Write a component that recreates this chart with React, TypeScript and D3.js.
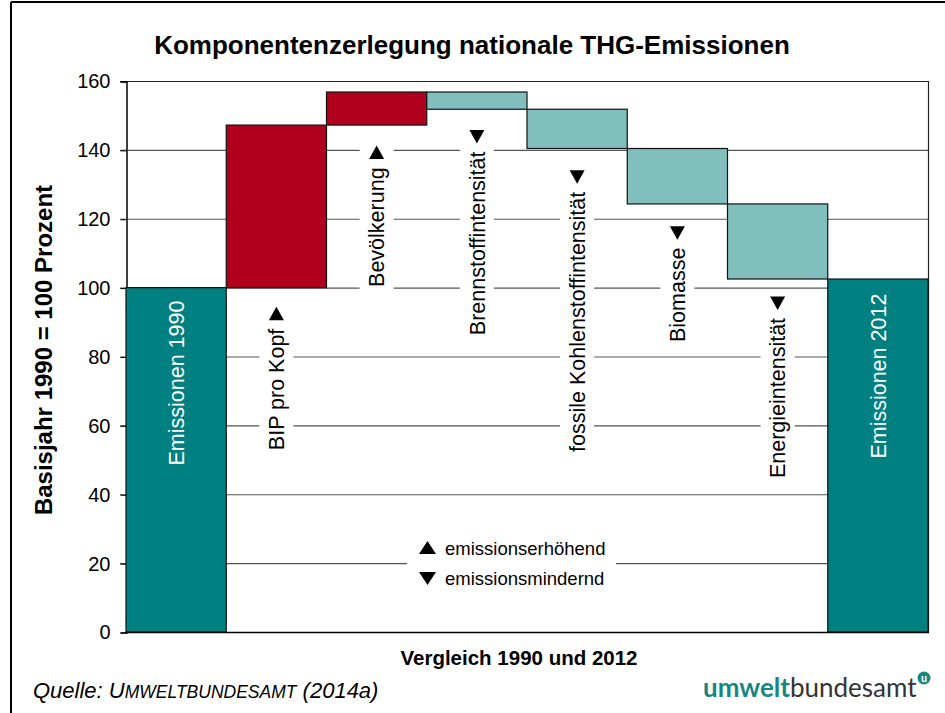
import { useEffect, useRef } from "react";
import * as d3 from "d3";

// Werte (Basisjahr 1990 = 100)
const categories = [
  "Emissionen 1990",
  "BIP pro Kopf",
  "Bevölkerung",
  "Brennstoffintensität",
  "fossile Kohlenstoffintensität",
  "Biomasse",
  "Energieintensität",
  "Emissionen 2012",
];
const baseValue = 100;
const componentDeltas = [47.2, 9.6, -5.0, -11.4, -16.1, -21.8];
const yTicks = [0, 20, 40, 60, 80, 100, 120, 140, 160];
const legendItems = [
  { up: true, label: "emissionserhöhend" },
  { up: false, label: "emissionsmindernd" },
];

const W = 945;
const H = 713;
const FONT = "'Liberation Sans', Arial, sans-serif";

// Position der Beschriftungen (Startpunkt des gedrehten Textes, in Achsenwerten)
const labelStart = [72.3, 52.8, 100.2, 86.2, 52.3, 84.2, 44.7, 74.3];

const App = () => {
  const ref = useRef<SVGSVGElement>(null);

  useEffect(() => {
    const svg = d3.select(ref.current);
    svg.selectAll("*").remove();

    // Balken aufbauen: Start, Komponenten, Ende
    let level = baseValue;
    const bars: { name: string; y0: number; y1: number; kind: string }[] = [];
    bars.push({ name: categories[0], y0: 0, y1: baseValue, kind: "total" });
    componentDeltas.forEach((d, i) => {
      bars.push({
        name: categories[i + 1],
        y0: level,
        y1: level + d,
        kind: d >= 0 ? "up" : "down",
      });
      level += d;
    });
    bars.push({ name: categories[7], y0: 0, y1: level, kind: "total" });

    const x = d3.scaleBand().domain(categories).range([126, 928]).padding(0);
    const y = d3.scaleLinear().domain([0, 160]).range([632, 81]);

    const color: Record<string, string> = {
      total: "#008080",
      up: "#B0001E",
      down: "#80BFBE",
    };

    // Rahmen
    svg.append("line").attr("x1", 11).attr("x2", W).attr("y1", 2).attr("y2", 2)
      .attr("stroke", "#000").attr("stroke-width", 2);
    svg.append("line").attr("x1", 11).attr("x2", 11).attr("y1", 2).attr("y2", H)
      .attr("stroke", "#000").attr("stroke-width", 2);

    // Titel
    svg.append("text").attr("x", 472).attr("y", 54).attr("text-anchor", "middle")
      .attr("font-family", FONT).attr("font-weight", "bold").attr("font-size", 26)
      .text("Komponentenzerlegung nationale THG-Emissionen");

    // Gitterlinien
    svg.append("g")
      .selectAll("line")
      .data(yTicks.filter((t) => t > 0))
      .enter()
      .append("line")
      .attr("x1", 120)
      .attr("x2", 928)
      .attr("y1", (d) => y(d) + 0.5)
      .attr("y2", (d) => y(d) + 0.5)
      .attr("stroke", (d) => (d === 160 ? "#222" : "#555"))
      .attr("stroke-width", 1.2);

    // rechte Begrenzung
    svg.append("line").attr("x1", 928.5).attr("x2", 928.5).attr("y1", y(160)).attr("y2", y(0))
      .attr("stroke", "#222").attr("stroke-width", 1.2);

    // Achse links
    const yAxis = d3.axisLeft(y).tickValues(yTicks).tickSize(6).tickPadding(10).tickFormat(d3.format("d"));
    svg.append("g")
      .attr("transform", "translate(126.5,0.5)")
      .call(yAxis)
      .call((g) => g.select(".domain").attr("stroke", "#000").attr("stroke-width", 1.5))
      .call((g) => g.selectAll(".tick line").attr("stroke", "#000"))
      .call((g) =>
        g.selectAll(".tick text").attr("font-family", FONT).attr("font-size", 20).attr("fill", "#000")
      );

    // Legende (weißer Hintergrund unterbricht Gitterlinie)
    const lg = svg.append("g");
    lg.append("rect").attr("x", 407).attr("y", 533).attr("width", 209).attr("height", 60).attr("fill", "#fff");
    legendItems.forEach((item, i) => {
      const cy = 548 + i * 30;
      const tri = item.up
        ? `M${427.5},${cy - 7}L${436},${cy + 6}L${419},${cy + 6}Z`
        : `M${419},${cy - 6}L${436},${cy - 6}L${427.5},${cy + 7}Z`;
      lg.append("path").attr("d", tri).attr("fill", "#000");
      lg.append("text").attr("x", 445).attr("y", cy + 7)
        .attr("font-family", FONT).attr("font-size", 18.5).text(item.label);
    });

    // Beschriftungen der Komponenten (weiße Kästen hinter Text)
    bars.forEach((b, i) => {
      if (b.kind === "total") return;
      const cx = x(b.name)! + x.bandwidth() / 2;
      const y0 = y(labelStart[i]);
      const g = svg.append("g");
      const box = g.append("rect").attr("fill", "#fff");
      const t = g.append("text")
        .attr("transform", `translate(${cx},${y0}) rotate(-90)`)
        .attr("dy", "0.36em")
        .attr("font-family", FONT)
        .attr("font-size", 21.5)
        .text(b.name);
      const len = (t.node() as SVGTextElement).getComputedTextLength();
      const triC = y0 - len - 15;
      const tri = b.kind === "up"
        ? `M${cx},${triC - 7}L${cx + 7.5},${triC + 6.5}L${cx - 7.5},${triC + 6.5}Z`
        : `M${cx - 7.5},${triC - 6.5}L${cx + 7.5},${triC - 6.5}L${cx},${triC + 7}Z`;
      g.append("path").attr("d", tri).attr("fill", "#000");
      box.attr("x", cx - 17).attr("width", 34)
        .attr("y", triC - 12).attr("height", y0 + 4 - (triC - 12));
    });

    // Balken
    svg.append("g")
      .selectAll("rect")
      .data(bars)
      .enter()
      .append("rect")
      .attr("x", (d) => x(d.name)!)
      .attr("width", x.bandwidth())
      .attr("y", (d) => y(Math.max(d.y0, d.y1)))
      .attr("height", (d) => Math.abs(y(d.y0) - y(d.y1)))
      .attr("fill", (d) => color[d.kind])
      .attr("stroke", "#111")
      .attr("stroke-width", 1.2);

    // Weiße Beschriftung der Gesamtbalken
    bars.forEach((b, i) => {
      if (b.kind !== "total") return;
      const cx = x(b.name)! + x.bandwidth() / 2;
      svg.append("text")
        .attr("transform", `translate(${cx},${y(labelStart[i])}) rotate(-90)`)
        .attr("dy", "0.36em")
        .attr("text-anchor", "middle")
        .attr("font-family", FONT)
        .attr("font-size", 21.5)
        .attr("fill", "#fff")
        .text(b.name);
    });

    // x-Achse
    svg.append("line").attr("x1", 126).attr("x2", 929).attr("y1", y(0) + 0.5).attr("y2", y(0) + 0.5)
      .attr("stroke", "#000").attr("stroke-width", 1.5);

    // Achsentitel
    svg.append("text").attr("transform", "translate(43,350) rotate(-90)").attr("dy", "0.36em")
      .attr("text-anchor", "middle").attr("font-family", FONT).attr("font-weight", "bold")
      .attr("font-size", 24).text("Basisjahr 1990 = 100 Prozent");
    svg.append("text").attr("x", 519).attr("y", 665).attr("text-anchor", "middle")
      .attr("font-family", FONT).attr("font-weight", "bold").attr("font-size", 20.5)
      .text("Vergleich 1990 und 2012");

    // Quelle
    const q = svg.append("text").attr("x", 33).attr("y", 698).attr("font-family", FONT)
      .attr("font-style", "italic").attr("font-size", 22);
    q.append("tspan").text("Quelle: U");
    q.append("tspan").attr("font-size", 17.5).text("MWELTBUNDESAMT");
    q.append("tspan").text(" (2014a)");

    // Logo
    const logo = svg.append("text").attr("x", 703).attr("y", 697).attr("font-family", "Lato, 'Open Sans', sans-serif")
      .attr("font-size", 26);
    logo.append("tspan").attr("font-weight", "bold").attr("fill", "#17877F").text("umwelt");
    logo.append("tspan").attr("fill", "#333").attr("font-weight", 400).text("bundesamt");
    svg.append("circle").attr("cx", 924).attr("cy", 678).attr("r", 6.5).attr("fill", "#17877F");
    svg.append("text").attr("x", 924).attr("y", 681.5).attr("text-anchor", "middle")
      .attr("font-family", FONT).attr("font-weight", "bold").attr("font-size", 10).attr("fill", "#fff").text("u");
  }, []);

  return <svg ref={ref} width={W} height={H} style={{ display: "block", position: "absolute", left: 0, top: 0 }} />;
};

export default App;
